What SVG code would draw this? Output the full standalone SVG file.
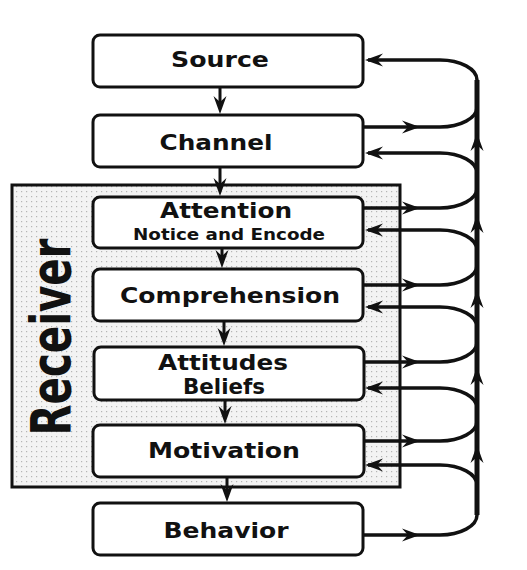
<svg xmlns="http://www.w3.org/2000/svg" width="527" height="570" viewBox="0 0 527 570">
<defs>
<pattern id="dots" width="5" height="5" patternUnits="userSpaceOnUse">
<rect width="5" height="5" fill="#f3f3f3"/>
<rect x="1" y="1" width="1.2" height="1.2" fill="#b5b5b5"/>
</pattern>
<path id="ah" d="M0,0 L-18,-6.5 L-12,0 L-18,6.5 Z"/>
</defs>
<style>
.box{fill:#fff;stroke:#111;stroke-width:3}
.t{font-family:"DejaVu Sans","Liberation Sans",sans-serif;font-weight:bold;font-size:21px;fill:#111;text-anchor:middle}
.s{font-size:16px}
.c{fill:none;stroke:#111;stroke-width:3.5}
.v{fill:none;stroke:#111;stroke-width:3}
.trunk{fill:none;stroke:#111;stroke-width:5}
use{fill:#111}
</style>
<g id="receiver">
<rect x="12" y="185" width="388" height="302" fill="url(#dots)" stroke="#111" stroke-width="3"/>
<text class="t" transform="translate(70,337) rotate(-90)" style="font-size:56px" textLength="197" lengthAdjust="spacingAndGlyphs">Receiver</text>
</g>
<g id="connectors">
<line class="trunk" x1="477" y1="80" x2="477" y2="515"/>
<path class="c" d="M368 60 H440 A37 20 0 0 1 477 80"/>
<path class="c" d="M477 107 A37 20 0 0 1 440 127 H363"/>
<path class="c" d="M368 153 H440 A37 20 0 0 1 477 173"/>
<path class="c" d="M477 188 A37 20 0 0 1 440 208 H363"/>
<path class="c" d="M368 230 H440 A37 20 0 0 1 477 250"/>
<path class="c" d="M477 265 A37 20 0 0 1 440 285 H363"/>
<path class="c" d="M368 307 H440 A37 20 0 0 1 477 327"/>
<path class="c" d="M477 342 A37 20 0 0 1 440 362 H363"/>
<path class="c" d="M368 388 H440 A37 20 0 0 1 477 408"/>
<path class="c" d="M477 421 A37 20 0 0 1 440 441 H363"/>
<path class="c" d="M368 465 H440 A37 20 0 0 1 477 485"/>
<path class="c" d="M477 515 A37 20 0 0 1 440 535 H363"/>
<use href="#ah" transform="translate(365,60) rotate(180)"/>
<use href="#ah" transform="translate(365,153) rotate(180)"/>
<use href="#ah" transform="translate(365,230) rotate(180)"/>
<use href="#ah" transform="translate(365,307) rotate(180)"/>
<use href="#ah" transform="translate(365,388) rotate(180)"/>
<use href="#ah" transform="translate(365,465) rotate(180)"/>
<use href="#ah" transform="translate(420,127)"/>
<use href="#ah" transform="translate(420,208)"/>
<use href="#ah" transform="translate(420,285)"/>
<use href="#ah" transform="translate(420,362)"/>
<use href="#ah" transform="translate(420,441)"/>
<use href="#ah" transform="translate(420,535)"/>
<use href="#ah" transform="translate(477,133) rotate(-90)"/>
<use href="#ah" transform="translate(477,215) rotate(-90)"/>
<use href="#ah" transform="translate(477,290) rotate(-90)"/>
<use href="#ah" transform="translate(477,367) rotate(-90)"/>
<use href="#ah" transform="translate(477,445) rotate(-90)"/>
<line class="v" x1="220" y1="87" x2="220" y2="108"/>
<use href="#ah" transform="translate(220,114) rotate(90)"/>
<line class="v" x1="220" y1="167" x2="220" y2="190"/>
<use href="#ah" transform="translate(220,196) rotate(90)"/>
<line class="v" x1="222" y1="248" x2="222" y2="262"/>
<use href="#ah" transform="translate(222,268) rotate(90)"/>
<line class="v" x1="224" y1="321" x2="224" y2="340"/>
<use href="#ah" transform="translate(224,346) rotate(90)"/>
<line class="v" x1="225" y1="400" x2="225" y2="418"/>
<use href="#ah" transform="translate(225,424) rotate(90)"/>
<line class="v" x1="227" y1="477" x2="227" y2="496"/>
<use href="#ah" transform="translate(227,502) rotate(90)"/>
</g>
<g id="source">
<rect class="box" x="93" y="35" width="270" height="52" rx="7"/>
<text class="t" x="220" y="67" textLength="98" lengthAdjust="spacingAndGlyphs">Source</text>
</g>
<g id="channel">
<rect class="box" x="93" y="115" width="270" height="52" rx="7"/>
<text class="t" x="216" y="150" textLength="113" lengthAdjust="spacingAndGlyphs">Channel</text>
</g>
<g id="attention">
<rect class="box" x="93" y="197" width="270" height="51" rx="7"/>
<text class="t" x="226" y="218" textLength="132" lengthAdjust="spacingAndGlyphs">Attention</text>
<text class="t s" x="229" y="240" textLength="192" lengthAdjust="spacingAndGlyphs">Notice and Encode</text>
</g>
<g id="comprehension">
<rect class="box" x="93" y="269" width="270" height="52" rx="7"/>
<text class="t" x="230" y="303" textLength="220" lengthAdjust="spacingAndGlyphs">Comprehension</text>
</g>
<g id="attitudes">
<rect class="box" x="94" y="347" width="270" height="53" rx="7"/>
<text class="t" x="223" y="370" textLength="130" lengthAdjust="spacingAndGlyphs">Attitudes</text>
<text class="t" x="224" y="394" textLength="82" lengthAdjust="spacingAndGlyphs">Beliefs</text>
</g>
<g id="motivation">
<rect class="box" x="93" y="425" width="271" height="52" rx="7"/>
<text class="t" x="224" y="458" textLength="152" lengthAdjust="spacingAndGlyphs">Motivation</text>
</g>
<g id="behavior">
<rect class="box" x="93" y="503" width="270" height="52" rx="7"/>
<text class="t" x="226" y="538" textLength="125" lengthAdjust="spacingAndGlyphs">Behavior</text>
</g>
</svg>
